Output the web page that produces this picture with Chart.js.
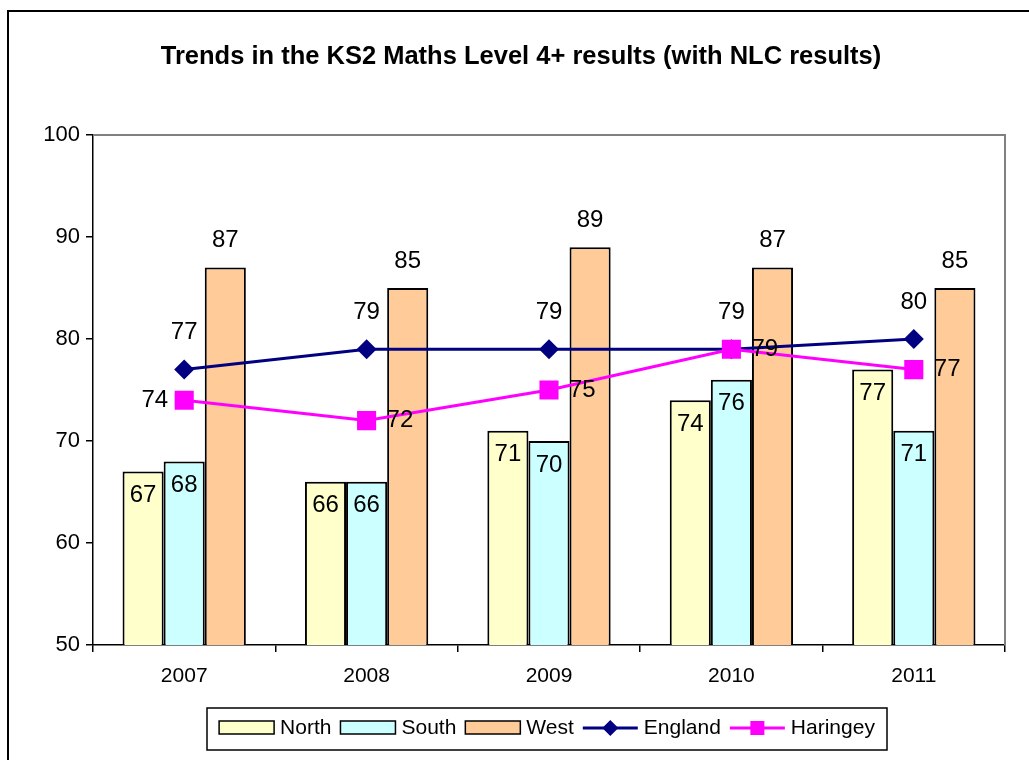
<!DOCTYPE html>
<html>
<head>
<meta charset="utf-8">
<script src="https://cdn.jsdelivr.net/npm/chart.js@4"></script>
<style>
  html, body { margin: 0; padding: 0; background: #fff; overflow: hidden; }
  #wrap { width: 1029px; height: 760px; position: relative; }
</style>
</head>
<body>
<div id="wrap"><canvas id="ks2" width="1029" height="760"></canvas></div>
<script>
// data
const years = ["2007", "2008", "2009", "2010", "2011"];
const north = [67, 66, 71, 74, 77];
const south = [68, 66, 70, 76, 71];
const west = [87, 85, 89, 87, 85];
const england = [77, 79, 79, 79, 80];
const haringey = [74, 72, 75, 79, 77];
const yTicks = [50, 60, 70, 80, 90, 100];

const titleText = "Trends in the KS2 Maths Level 4+ results (with NLC results)";
const FONT = "'Liberation Sans', Arial, sans-serif";

// outer frame + title + plot border (top/right are grey in the original)
const frame = {
  id: "frame",
  beforeDraw(chart) {
    const ctx = chart.ctx;
    ctx.save();
    ctx.fillStyle = "#fff";
    ctx.fillRect(0, 0, chart.width, chart.height);
    ctx.strokeStyle = "#000";
    ctx.lineWidth = 2;
    ctx.strokeRect(8, 11, 1060, 800);
    ctx.fillStyle = "#000";
    ctx.font = "bold 25.5px " + FONT;
    ctx.textAlign = "center";
    ctx.textBaseline = "middle";
    ctx.fillText(titleText, 521, 57);
    ctx.restore();
  },
  beforeDatasetsDraw(chart) {
    const a = chart.chartArea;
    const ctx = chart.ctx;
    ctx.save();
    ctx.strokeStyle = "#808080";
    ctx.lineWidth = 2;
    ctx.beginPath();
    ctx.moveTo(a.left, a.top);
    ctx.lineTo(a.right, a.top);
    ctx.lineTo(a.right, a.bottom);
    ctx.stroke();
    ctx.restore();
  }
};

// value labels, Excel style
const valueLabels = {
  id: "valueLabels",
  afterDatasetsDraw(chart) {
    const ctx = chart.ctx;
    ctx.save();
    ctx.fillStyle = "#000";
    ctx.font = "24px " + FONT;
    ctx.textBaseline = "middle";
    chart.data.datasets.forEach((ds, i) => {
      const meta = chart.getDatasetMeta(i);
      meta.data.forEach((el, j) => {
        const txt = String(ds.data[j]);
        let pos = ds.labelPos;
        if (Array.isArray(pos)) pos = pos[j];
        let x = el.x, y = el.y;
        ctx.textAlign = "center";
        if (pos === "insideEnd") y = el.y + 24;
        else if (pos === "outsideEnd") y = el.y - 27;
        else if (pos === "above") y = el.y - 37;
        else if (pos === "right") { ctx.textAlign = "left"; x = el.x + 20; }
        else if (pos === "left") { ctx.textAlign = "right"; x = el.x - 16; }
        ctx.fillText(txt, x, y);
      });
    });
    ctx.restore();
  }
};

// legend in a box under the plot
const boxLegend = {
  id: "boxLegend",
  afterDraw(chart) {
    const ctx = chart.ctx;
    const sw = 55, gapT = 6, gapN = 9;
    ctx.save();
    ctx.font = "21px " + FONT;
    const items = chart.data.datasets.map((ds) => ({ ds, w: ctx.measureText(ds.label).width }));
    let total = 0;
    items.forEach((it, k) => { total += sw + gapT + it.w + (k < items.length - 1 ? gapN : 0); });
    const boxL = 207, boxR = 887, boxT = 708, boxB = 750;
    ctx.strokeStyle = "#000";
    ctx.lineWidth = 1.5;
    ctx.strokeRect(boxL, boxT, boxR - boxL, boxB - boxT);
    let x = (boxL + boxR) / 2 - total / 2;
    const cy = 728;
    items.forEach((it) => {
      const ds = it.ds;
      if (ds.type === "line") {
        ctx.strokeStyle = ds.borderColor;
        ctx.lineWidth = 3;
        ctx.beginPath();
        ctx.moveTo(x, cy);
        ctx.lineTo(x + sw, cy);
        ctx.stroke();
        ctx.fillStyle = ds.pointBackgroundColor;
        const cx = x + sw / 2;
        ctx.beginPath();
        if (ds.pointStyle === "rectRot") {
          ctx.moveTo(cx, cy - 8); ctx.lineTo(cx + 8, cy); ctx.lineTo(cx, cy + 8); ctx.lineTo(cx - 8, cy);
          ctx.closePath();
        } else {
          ctx.rect(cx - 7, cy - 7, 14, 14);
        }
        ctx.fill();
      } else {
        ctx.fillStyle = ds.backgroundColor;
        ctx.fillRect(x, cy - 7, sw, 13);
        ctx.strokeStyle = "#000";
        ctx.lineWidth = 1.5;
        ctx.strokeRect(x, cy - 7, sw, 13);
      }
      x += sw + gapT;
      ctx.fillStyle = "#000";
      ctx.textAlign = "left";
      ctx.textBaseline = "middle";
      ctx.fillText(ds.label, x, cy);
      x += it.w + gapN;
    });
    ctx.restore();
  }
};

const barStyle = { borderColor: "#000", borderWidth: 2, categoryPercentage: 0.676, barPercentage: 1, order: 2, labelPos: "insideEnd" };

new Chart(document.getElementById("ks2"), {
  type: "bar",
  data: {
    labels: years,
    datasets: [
      { ...barStyle, label: "North", data: north, backgroundColor: "#FFFFCC" },
      { ...barStyle, label: "South", data: south, backgroundColor: "#CCFFFF" },
      { ...barStyle, label: "West", data: west, backgroundColor: "#FFCC99", labelPos: "outsideEnd" },
      {
        type: "line", label: "England", data: england, order: 1,
        borderColor: "#000080", borderWidth: 3,
        pointStyle: "rectRot", pointRadius: 10, pointHoverRadius: 10,
        pointBackgroundColor: "#000080", pointBorderColor: "#000080", pointBorderWidth: 0,
        labelPos: "above"
      },
      {
        type: "line", label: "Haringey", data: haringey, order: 0,
        borderColor: "#FF00FF", borderWidth: 3,
        pointStyle: "rect", pointRadius: 13.5, pointHoverRadius: 13.5,
        pointBackgroundColor: "#FF00FF", pointBorderColor: "#FF00FF", pointBorderWidth: 0,
        labelPos: ["left", "right", "right", "right", "right"]
      }
    ]
  },
  options: {
    responsive: false,
    animation: false,
    events: [],
    layout: { padding: { top: 135, right: 24, bottom: 70, left: 0 } },
    plugins: {
      legend: { display: false },
      title: { display: false },
      tooltip: { enabled: false }
    },
    scales: {
      x: {
        offset: true,
        grid: { offset: true, drawOnChartArea: false, tickLength: 7, color: "#000", lineWidth: 1.5 },
        border: { color: "#000", width: 1.5 },
        ticks: { color: "#000", font: { family: FONT, size: 21 }, padding: 12 },
        afterFit(scale) { scale.height = 45; }
      },
      y: {
        min: 50, max: 100,
        afterBuildTicks(scale) { scale.ticks = yTicks.map((v) => ({ value: v })); },
        grid: { drawOnChartArea: false, tickLength: 7, color: "#000", lineWidth: 1.5 },
        border: { color: "#000", width: 1.5 },
        ticks: { color: "#000", font: { family: FONT, size: 22 }, padding: 6 },
        afterFit(scale) { scale.width = 93; }
      }
    }
  },
  plugins: [frame, valueLabels, boxLegend]
});
</script>
</body>
</html>
